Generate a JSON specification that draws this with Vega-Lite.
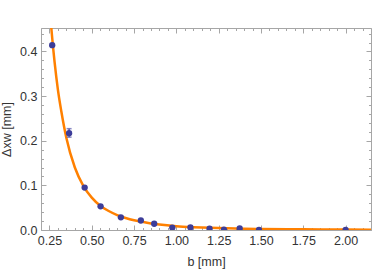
{
  "$schema": "https://vega.github.io/schema/vega-lite/v6.json",
  "autosize": "none",
  "width": 330,
  "height": 202,
  "padding": {"left": 41, "top": 28, "right": 3, "bottom": 50},
  "background": "white",
  "config": {
    "view": {"stroke": "#a6a6a6", "strokeWidth": 1},
    "axis": {"grid": false, "domain": false, "tickColor": "#a6a6a6", "labelFont": "Liberation Sans", "labelFontSize": 12.5, "labelColor": "#333333", "titleFont": "Liberation Sans", "titleFontSize": 12.5, "titleColor": "#333333", "titleFontWeight": "normal"}
  },
  "datasets": {
    "curve": [
      {"b": 0.25, "dx": 0.50}, {"b": 0.26, "dx": 0.457}, {"b": 0.27, "dx": 0.414}, {"b": 0.28, "dx": 0.377},
      {"b": 0.30, "dx": 0.314}, {"b": 0.32, "dx": 0.266}, {"b": 0.35, "dx": 0.206}, {"b": 0.40, "dx": 0.140},
      {"b": 0.45, "dx": 0.099}, {"b": 0.50, "dx": 0.0725}, {"b": 0.55, "dx": 0.0545}, {"b": 0.60, "dx": 0.0425},
      {"b": 0.65, "dx": 0.0335}, {"b": 0.70, "dx": 0.027}, {"b": 0.75, "dx": 0.022}, {"b": 0.80, "dx": 0.0183},
      {"b": 0.85, "dx": 0.0148}, {"b": 0.90, "dx": 0.0122}, {"b": 1.00, "dx": 0.0086}, {"b": 1.10, "dx": 0.0064},
      {"b": 1.20, "dx": 0.0048}, {"b": 1.30, "dx": 0.0037}, {"b": 1.40, "dx": 0.0029}, {"b": 1.50, "dx": 0.0024},
      {"b": 1.75, "dx": 0.0015}, {"b": 2.00, "dx": 0.0010}, {"b": 2.16, "dx": 0.0008}
    ],
    "pts": [
      {"b": 0.266, "dx": 0.414}, {"b": 0.366, "dx": 0.217}, {"b": 0.458, "dx": 0.095}, {"b": 0.552, "dx": 0.053},
      {"b": 0.672, "dx": 0.0284}, {"b": 0.79, "dx": 0.0213}, {"b": 0.869, "dx": 0.014}, {"b": 0.976, "dx": 0.0055},
      {"b": 1.083, "dx": 0.0058}, {"b": 1.196, "dx": 0.003}, {"b": 1.281, "dx": 0.001}, {"b": 1.374, "dx": 0.0035},
      {"b": 1.488, "dx": 0.0}, {"b": 2.0, "dx": 0.0}
    ],
    "err": [
      {"b": 0.366, "lo": 0.208, "hi": 0.227}
    ],
    "caps": [
      {"b": 0.366, "dx": 0.208}, {"b": 0.366, "dx": 0.227}
    ]
  },
  "resolve": {"axis": {"x": "independent", "y": "independent"}},
  "layer": [
    {
      "data": {"name": "curve"},
      "mark": {"type": "line", "color": "#ff8000", "strokeWidth": 2.5, "interpolate": "monotone", "clip": true},
      "encoding": {
        "x": {"field": "b", "type": "quantitative", "scale": {"domain": [0.2, 2.15], "nice": false, "zero": false},
              "axis": {"orient": "bottom", "title": "b [mm]", "values": [0.25, 0.5, 0.75, 1.0, 1.25, 1.5, 1.75, 2.0], "format": ".2f", "tickSize": -5, "labelPadding": 9, "titlePadding": 9}},
        "y": {"field": "dx", "type": "quantitative", "scale": {"domain": [0, 0.4525], "nice": false, "zero": false},
              "axis": {"orient": "left", "title": "Δxw [mm]", "values": [0, 0.1, 0.2, 0.3, 0.4], "format": ".1f", "tickSize": -5, "labelPadding": 9, "titlePadding": 6}}
      }
    },
    {
      "data": {"name": "err"},
      "mark": {"type": "rule", "color": "#5555aa", "strokeWidth": 1.5},
      "encoding": {
        "x": {"field": "b", "type": "quantitative",
              "axis": {"orient": "bottom", "title": null, "labels": false, "tickSize": -2.5, "values": [0.2, 0.3, 0.35, 0.4, 0.45, 0.55, 0.6, 0.65, 0.7, 0.8, 0.85, 0.9, 0.95, 1.05, 1.1, 1.15, 1.2, 1.3, 1.35, 1.4, 1.45, 1.55, 1.6, 1.65, 1.7, 1.8, 1.85, 1.9, 1.95, 2.05, 2.1, 2.15]}},
        "y": {"field": "lo", "type": "quantitative",
              "axis": {"orient": "left", "title": null, "labels": false, "tickSize": -2.5, "values": [0.02, 0.04, 0.06, 0.08, 0.12, 0.14, 0.16, 0.18, 0.22, 0.24, 0.26, 0.28, 0.32, 0.34, 0.36, 0.38, 0.42, 0.44]}},
        "y2": {"field": "hi"}
      }
    },
    {
      "data": {"name": "pts"},
      "mark": {"type": "circle", "color": "#3d3d99", "opacity": 1, "size": 40, "clip": true},
      "encoding": {
        "x": {"field": "b", "type": "quantitative",
              "axis": {"orient": "top", "title": null, "labels": false, "tickSize": -5, "values": [0.25, 0.5, 0.75, 1.0, 1.25, 1.5, 1.75, 2.0]}},
        "y": {"field": "dx", "type": "quantitative",
              "axis": {"orient": "right", "title": null, "labels": false, "tickSize": -5, "values": [0, 0.1, 0.2, 0.3, 0.4]}}
      }
    },
    {
      "data": {"name": "caps"},
      "mark": {"type": "tick", "orient": "horizontal", "color": "#5555aa", "size": 5, "thickness": 1.5},
      "encoding": {
        "x": {"field": "b", "type": "quantitative",
              "axis": {"orient": "top", "title": null, "labels": false, "tickSize": -2.5, "values": [0.2, 0.3, 0.35, 0.4, 0.45, 0.55, 0.6, 0.65, 0.7, 0.8, 0.85, 0.9, 0.95, 1.05, 1.1, 1.15, 1.2, 1.3, 1.35, 1.4, 1.45, 1.55, 1.6, 1.65, 1.7, 1.8, 1.85, 1.9, 1.95, 2.05, 2.1, 2.15]}},
        "y": {"field": "dx", "type": "quantitative",
              "axis": {"orient": "right", "title": null, "labels": false, "tickSize": -2.5, "values": [0.02, 0.04, 0.06, 0.08, 0.12, 0.14, 0.16, 0.18, 0.22, 0.24, 0.26, 0.28, 0.32, 0.34, 0.36, 0.38, 0.42, 0.44]}}
      }
    }
  ]
}
